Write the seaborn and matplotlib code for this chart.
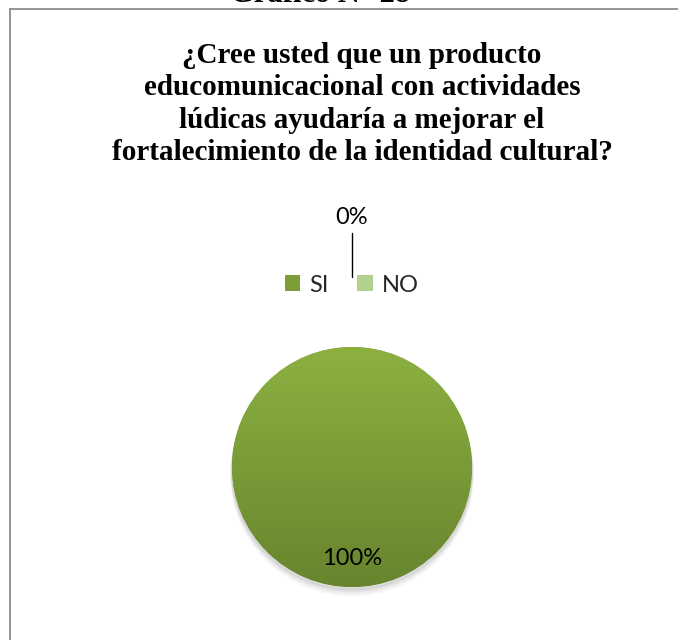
import numpy as np
import matplotlib
matplotlib.use("Agg")
import matplotlib.pyplot as plt
import seaborn as sns
from matplotlib.patches import Rectangle
from matplotlib.lines import Line2D

# datos del grafico
categorias = ["SI", "NO"]
valores = [100, 0]
etiquetas = ["100%", "0%"]
titulo = ("¿Cree usted que un producto\neducomunicacional con actividades\n"
          "lúdicas ayudaría a mejorar el\nfortalecimiento de la identidad cultural?")
encabezado = "Gráfico N° 28"

sns.set_theme(style="white")
plt.rcParams['font.family'] = ['Lato', 'DejaVu Sans']

W, H = 678, 640
fig = plt.figure(figsize=(W / 100, H / 100), dpi=100)

# marco del grafico
fig.patches.append(Rectangle((10 / W, -0.1), 1.2, 1 - 9 / H + 0.1, transform=fig.transFigure,
                             fill=False, edgecolor="#8c8c8c", linewidth=1.3))

# encabezado cortado arriba
fig.text(320 / W, 1 - 2 / H, encabezado, ha="center", va="baseline",
         family="Liberation Serif", fontweight="bold", fontsize=22, color="black")

fig.text(362 / W, 1 - 42 / H, titulo, ha="center", va="top", family="Liberation Serif",
         fontweight="bold", fontsize=21, linespacing=1.25, color="black")

# pastel
cx, cy, r = 352, 467, 120
ax = fig.add_axes([(cx - r) / W, (H - cy - r) / H, 2 * r / W, 2 * r / H])
colores = ["#7b9e36", "#b3cf8c"]
wedges, textos = ax.pie(valores, labels=None, colors=colores, startangle=90,
                        counterclock=False, wedgeprops=dict(linewidth=0), radius=1.0)
ax.set_aspect("equal")
ax.axis("off")

# sombra suave
for k, a in enumerate([0.05, 0.04, 0.03, 0.02]):
    sombra = plt.Circle((0, -0.025 - 0.012 * k), 1.0 + 0.004 * k, color="black", alpha=a,
                        zorder=0, clip_on=False)
    ax.add_patch(sombra)

# degradado sobre la porcion SI
grad = np.linspace(0, 1, 256).reshape(-1, 1)
cmap = matplotlib.colors.LinearSegmentedColormap.from_list("g", ["#8cb141", "#67852e"])
img = ax.imshow(grad, extent=[-1, 1, -1, 1], cmap=cmap, origin="upper", aspect="auto", zorder=2)
img.set_clip_path(wedges[0])
ax.set_xlim(-1, 1)
ax.set_ylim(-1, 1)

# etiquetas de porcentaje
for w, lab, val in zip(wedges, etiquetas, valores):
    ang = np.deg2rad((w.theta1 + w.theta2) / 2)
    if val > 0:
        ax.text(0.76 * np.cos(ang), 0.76 * np.sin(ang), lab, ha="center", va="center",
                fontsize=17, color="black", zorder=3)
    else:
        ax.text(2.08 * np.cos(ang), 2.08 * np.sin(ang), lab, ha="center", va="center",
                fontsize=17, color="black", clip_on=False, zorder=3)
        ax.add_line(Line2D([1.58 * np.cos(ang), 1.95 * np.cos(ang)],
                           [1.58 * np.sin(ang), 1.95 * np.sin(ang)],
                           color="black", linewidth=1.0, clip_on=False))

# leyenda
handles = [Rectangle((0, 0), 1, 1, facecolor=c, edgecolor="none") for c in colores]
fig.legend(handles, categorias, loc="center", bbox_to_anchor=(352 / W, 1 - 285 / H),
           ncol=2, frameon=False, fontsize=17, handlelength=0.65, handleheight=0.65,
           handletextpad=0.4, columnspacing=1.2)

fig.savefig("out.png", dpi=100)
